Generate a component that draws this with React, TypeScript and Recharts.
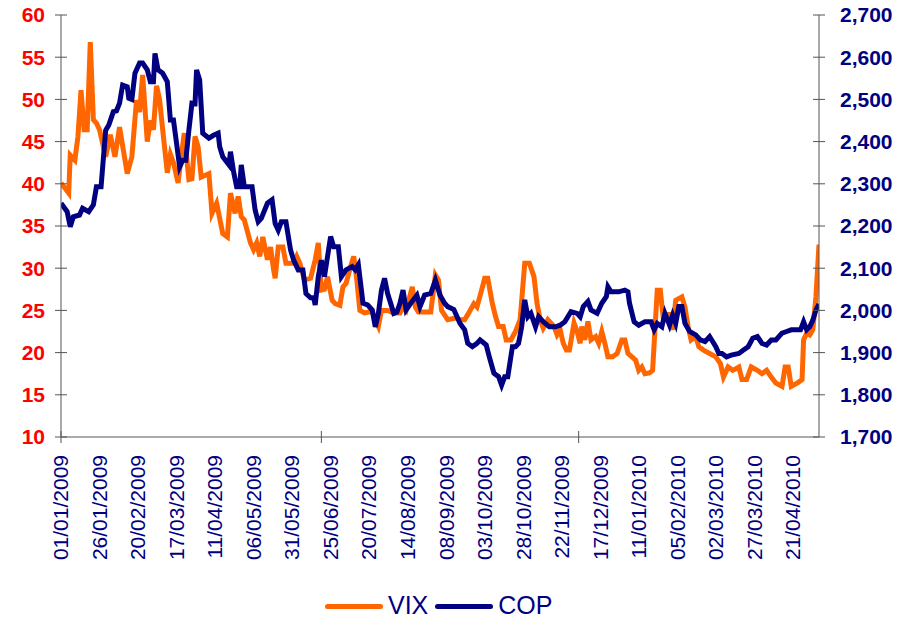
import React from 'react';
import { LineChart, Line, XAxis, YAxis, Legend } from 'recharts';

// x positions are days counted from 01/01/2009
const vixDays = [0, 5, 6, 9, 11, 13, 15, 17, 19, 21, 23, 25, 29, 32, 35, 38, 43, 46, 49, 51, 53, 56, 58, 60, 62, 64, 66, 69, 71, 73, 76, 78, 80, 83, 85, 87, 89, 91, 96, 98, 101, 105, 108, 110, 113, 115, 117, 119, 123, 125, 127, 129, 131, 134, 136, 138, 139, 141, 144, 146, 151, 153, 155, 158, 162, 165, 167, 169, 171, 173, 176, 178, 181, 183, 185, 188, 190, 192, 194, 197, 202, 204, 206, 208, 212, 216, 220, 222, 224, 228, 230, 232, 240, 243, 245, 247, 251, 256, 259, 262, 264, 268, 270, 273, 275, 277, 280, 282, 284, 287, 289, 292, 295, 298, 301, 304, 307, 309, 311, 313, 316, 320, 322, 324, 326, 328, 330, 333, 335, 337, 338, 340, 342, 344, 347, 349, 351, 353, 355, 358, 361, 364, 366, 368, 373, 375, 377, 379, 382, 384, 387, 389, 391, 393, 395, 397, 399, 403, 405, 407, 409, 412, 414, 417, 421, 425, 428, 430, 433, 436, 440, 442, 445, 448, 452, 455, 458, 461, 464, 468, 470, 472, 474, 478, 481, 482, 484, 486, 488, 490, 492];
const vixValues = [40.1, 38.9, 43.4, 42.8, 45.6, 51.1, 46.4, 46.4, 56.8, 47.6, 47.2, 46.4, 43.2, 45.8, 43.2, 46.7, 41.2, 43.2, 49.9, 48.5, 52.9, 45.0, 47.5, 46.4, 51.6, 50.0, 46.4, 41.3, 43.5, 42.5, 40.1, 43.2, 46.0, 40.5, 40.6, 45.6, 44.4, 40.8, 41.2, 36.5, 37.7, 34.1, 33.7, 38.9, 36.5, 38.5, 36.1, 35.7, 33.0, 32.2, 33.0, 31.4, 33.7, 31.0, 32.5, 29.8, 28.8, 32.5, 32.5, 30.6, 30.6, 31.4, 30.6, 28.6, 28.8, 31.0, 33.0, 27.4, 27.5, 29.0, 26.2, 25.8, 25.6, 27.8, 28.2, 30.2, 31.4, 28.6, 25.0, 24.7, 24.9, 23.9, 23.1, 25.0, 25.0, 24.7, 24.7, 25.4, 25.0, 27.8, 25.4, 24.8, 24.8, 29.2, 28.6, 25.0, 23.9, 24.1, 23.9, 23.9, 24.5, 25.8, 25.4, 27.4, 28.8, 28.8, 25.8, 24.3, 23.1, 23.1, 21.5, 21.5, 22.5, 23.9, 30.6, 30.6, 29.0, 25.8, 23.9, 22.9, 23.9, 23.1, 22.1, 22.7, 21.1, 20.3, 20.3, 23.5, 22.5, 21.1, 23.1, 21.5, 23.7, 21.5, 21.9, 21.1, 22.5, 21.1, 19.5, 19.5, 19.9, 21.5, 21.5, 19.9, 19.1, 17.9, 18.3, 17.5, 17.6, 17.9, 27.4, 27.4, 23.9, 24.5, 24.5, 22.7, 26.2, 26.6, 25.4, 23.1, 21.5, 21.9, 20.7, 20.3, 19.9, 19.5, 18.7, 17.1, 18.3, 17.9, 18.3, 16.8, 16.8, 18.3, 17.9, 17.5, 17.9, 17.1, 16.4, 16.0, 18.3, 18.3, 16.0, 16.4, 16.8, 21.5, 22.3, 22.1, 22.7, 26.6, 32.8];

const copDays = [0, 4, 6, 8, 12, 14, 18, 21, 23, 26, 29, 31, 34, 36, 38, 40, 43, 44, 46, 48, 51, 53, 56, 58, 60, 61, 63, 66, 69, 71, 73, 75, 77, 79, 81, 83, 85, 87, 88, 90, 92, 96, 99, 102, 103, 105, 109, 110, 112, 114, 116, 117, 119, 124, 126, 128, 130, 134, 137, 139, 141, 143, 146, 149, 151, 154, 157, 159, 162, 164, 165, 167, 169, 171, 175, 177, 180, 182, 185, 189, 191, 193, 195, 196, 199, 202, 204, 206, 208, 210, 212, 216, 218, 220, 222, 224, 227, 231, 233, 236, 240, 243, 246, 249, 251, 255, 259, 262, 264, 267, 270, 272, 276, 278, 281, 284, 286, 288, 290, 293, 295, 297, 299, 301, 303, 305, 308, 310, 313, 317, 321, 324, 327, 331, 335, 337, 339, 342, 344, 348, 351, 354, 355, 357, 362, 366, 368, 369, 372, 375, 379, 383, 385, 387, 390, 392, 395, 397, 399, 401, 403, 405, 408, 412, 415, 418, 421, 425, 427, 429, 432, 435, 440, 443, 446, 449, 452, 455, 458, 461, 464, 468, 471, 474, 480, 482, 484, 486, 488, 490, 492];
const copValues = [2254, 2234, 2198, 2222, 2226, 2242, 2234, 2250, 2293, 2293, 2427, 2439, 2471, 2473, 2491, 2534, 2530, 2503, 2500, 2562, 2586, 2586, 2570, 2542, 2542, 2609, 2570, 2562, 2542, 2451, 2451, 2396, 2340, 2356, 2356, 2427, 2491, 2490, 2570, 2546, 2420, 2408, 2415, 2420, 2388, 2364, 2345, 2376, 2329, 2293, 2293, 2345, 2293, 2293, 2238, 2210, 2218, 2254, 2262, 2206, 2190, 2210, 2210, 2143, 2119, 2096, 2096, 2040, 2030, 2030, 2013, 2080, 2119, 2080, 2175, 2151, 2151, 2080, 2096, 2104, 2096, 2108, 2048, 2017, 2013, 2001, 1961, 1993, 2048, 2076, 2040, 1993, 1996, 2017, 2048, 2001, 2017, 2036, 2009, 2036, 2040, 2072, 2036, 2017, 2009, 2002, 1969, 1954, 1922, 1914, 1922, 1930, 1918, 1890, 1851, 1843, 1823, 1843, 1843, 1914, 1914, 1922, 1961, 2025, 1985, 1993, 1961, 1985, 1973, 1961, 1961, 1965, 1973, 1997, 1993, 1985, 2009, 2021, 2001, 1993, 2017, 2033, 2056, 2044, 2044, 2048, 2044, 2017, 1973, 1965, 1973, 1973, 1954, 1969, 1961, 1993, 1965, 1989, 1969, 2009, 2009, 1969, 1950, 1942, 1930, 1926, 1938, 1914, 1898, 1898, 1890, 1894, 1898, 1906, 1914, 1934, 1938, 1922, 1918, 1930, 1930, 1946, 1950, 1954, 1954, 1973, 1954, 1961, 1977, 2001, 2015];

const dateLabels = ['01/01/2009', '26/01/2009', '20/02/2009', '17/03/2009', '11/04/2009', '06/05/2009', '31/05/2009', '25/06/2009', '20/07/2009', '14/08/2009', '08/09/2009', '03/10/2009', '28/10/2009', '22/11/2009', '17/12/2009', '11/01/2010', '05/02/2010', '02/03/2010', '27/03/2010', '21/04/2010'];
const labelDays = [0, 25, 50, 75, 100, 125, 150, 175, 200, 225, 250, 275, 300, 325, 350, 375, 400, 425, 450, 475];
const markDays = [0, 169, 336];
const vixTicks = [10, 15, 20, 25, 30, 35, 40, 45, 50, 55, 60];
const copTicks = [1700, 1800, 1900, 2000, 2100, 2200, 2300, 2400, 2500, 2600, 2700];
const seriesOrder = ['VIX', 'COP'];

const ORANGE = '#FF6600';
const NAVY = '#000080';
const RED = '#FF0000';
const AXIS = '#555555';
const FONT = '"Liberation Sans", Arial, sans-serif';

const rows: Record<number, any> = {};
vixDays.forEach((d, i) => { rows[d] = { ...(rows[d] || { day: d }), vix: vixValues[i] }; });
copDays.forEach((d, i) => { rows[d] = { ...(rows[d] || { day: d }), cop: copValues[i] }; });
const data = Object.values(rows).sort((a: any, b: any) => a.day - b.day);

const xTicks = Array.from(new Set([...labelDays, ...markDays])).sort((a, b) => a - b);

const XTick = ({ x, y, payload }: any) => {
  const i = labelDays.indexOf(payload.value);
  const ty = y + 18;
  return (
    <g>
      {markDays.includes(payload.value) && <line x1={x} x2={x} y1={y - 6} y2={y + 6} stroke={AXIS} />}
      {i >= 0 && (
        <text x={x} y={ty} dy="0.35em" textAnchor="end" transform={`rotate(-90, ${x}, ${ty})`}
          fill={NAVY} fontSize={21} fontFamily={FONT}>{dateLabels[i]}</text>
      )}
    </g>
  );
};

const LeftTick = ({ x, y, payload }: any) => (
  <g>
    <line x1={x - 6} x2={x + 6} y1={y} y2={y} stroke={AXIS} />
    <text x={x - 16} y={y} dy="0.35em" textAnchor="end" fill={RED} fontSize={21} fontWeight="bold" fontFamily={FONT}>
      {payload.value}
    </text>
  </g>
);

const RightTick = ({ x, y, payload }: any) => (
  <g>
    <line x1={x - 6} x2={x + 6} y1={y} y2={y} stroke={AXIS} />
    <text x={x + 21} y={y} dy="0.35em" textAnchor="start" fill={NAVY} fontSize={21} fontWeight="bold" fontFamily={FONT}>
      {payload.value.toLocaleString('en-US')}
    </text>
  </g>
);

const renderLegend = (props: any) => {
  const items = [...(props.payload || [])].sort((a: any, b: any) => seriesOrder.indexOf(a.value) - seriesOrder.indexOf(b.value));
  return (
    <div style={{ display: 'flex', alignItems: 'center', height: 28, paddingLeft: 325, fontFamily: FONT, fontSize: 25, color: NAVY, lineHeight: '28px' }}>
      {items.map((e: any) => (
        <div key={e.value} style={{ display: 'flex', alignItems: 'center', marginRight: 7 }}>
          <div style={{ width: 58, height: 5, background: e.color, borderRadius: 3, marginRight: 5, marginTop: 3 }} />
          <span>{e.value}</span>
        </div>
      ))}
    </div>
  );
};

export default function App() {
  return (
    <div style={{ position: 'absolute', top: 0, left: 0, width: 905, height: 619, background: '#fff' }}>
      <LineChart width={905} height={619} data={data} margin={{ top: 15, right: 0, bottom: 0, left: 0 }}>
        <XAxis dataKey="day" type="number" domain={[0, 492]} ticks={xTicks} interval={0}
          tick={<XTick />} tickLine={false} tickSize={0} tickMargin={0} height={154} stroke={AXIS} allowDataOverflow />
        <YAxis yAxisId="left" domain={[10, 60]} ticks={vixTicks} interval={0} width={61}
          tick={<LeftTick />} tickLine={false} tickSize={0} tickMargin={0} stroke={AXIS} allowDataOverflow />
        <YAxis yAxisId="right" orientation="right" domain={[1700, 2700]} ticks={copTicks} interval={0} width={86}
          tick={<RightTick />} tickLine={false} tickSize={0} tickMargin={0} stroke={AXIS} allowDataOverflow />
        <Legend verticalAlign="bottom" content={renderLegend} wrapperStyle={{ left: 0, width: 905, bottom: 0 }} />
        <Line yAxisId="left" type="linear" dataKey="vix" name="VIX" stroke={ORANGE} strokeWidth={5}
          dot={false} connectNulls isAnimationActive={false} />
        <Line yAxisId="right" type="linear" dataKey="cop" name="COP" stroke={NAVY} strokeWidth={5}
          dot={false} connectNulls isAnimationActive={false} />
      </LineChart>
    </div>
  );
}
